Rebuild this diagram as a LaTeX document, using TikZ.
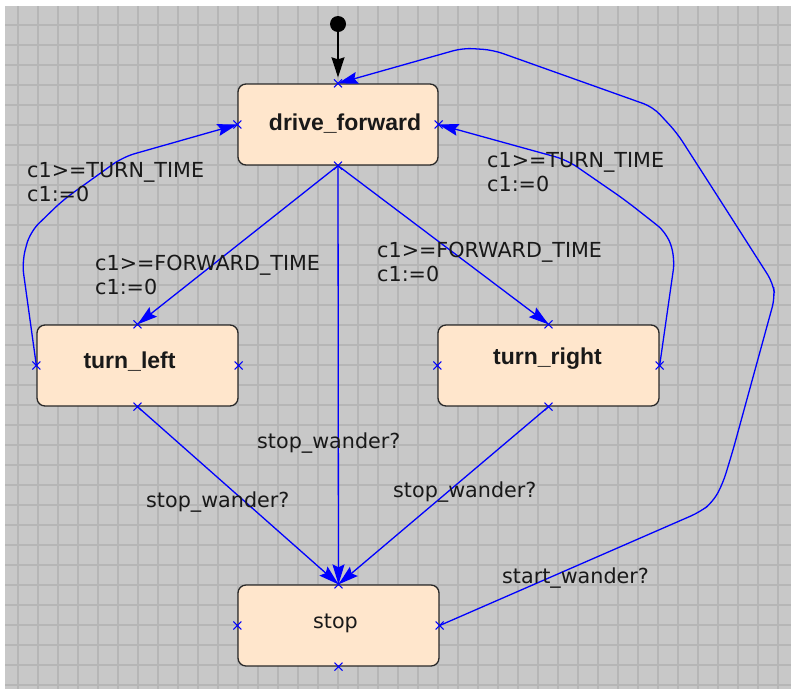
\documentclass[tikz,border=0pt]{standalone}
\usepackage{fontspec}
\setmainfont{DejaVu Sans}
\newfontfamily\statefont{Liberation Sans}
\usetikzlibrary{arrows.meta}
\definecolor{bgc}{RGB}{200,200,200}
\definecolor{gridc}{RGB}{182,182,182}
\definecolor{peach}{RGB}{255,230,204}
\definecolor{edgec}{RGB}{0,0,255}
\definecolor{bordc}{RGB}{40,40,40}
\definecolor{txtc}{RGB}{25,25,25}
\newcommand\sttext[3]{\raisebox{#2}[0pt][0pt]{\makebox[0pt][c]{\hspace*{#1}#3}}}
\tikzset{
  state/.style={rectangle, rounded corners=8pt, draw=bordc, line width=1.3pt,
    fill=peach, minimum height=81pt, inner sep=0pt, text=txtc,
    font=\statefont\bfseries\fontsize{23pt}{26pt}\selectfont},
  stopfont/.style={font=\normalfont\fontsize{20.7pt}{24pt}\selectfont},
  trans/.style={draw=edgec, line width=1.3pt, -{Stealth[length=20pt,width=12pt,inset=3pt]}},
  lbl/.style={font=\fontsize{20.7pt}{24pt}\selectfont, text=txtc, inner sep=0pt, anchor=north west, align=left},
  xmark/.style={draw=edgec, line width=1pt},
  initdot/.style={circle, fill=black, minimum size=16pt, inner sep=0pt},
  initarrow/.style={draw=black, line width=1.5pt, -{Stealth[length=20pt,width=13pt,inset=2pt]}, shorten >=6pt},
  gridline/.style={draw=gridc, line width=1.2pt}
}
\begin{document}
\begin{tikzpicture}[x=1pt,y=-1pt]
\useasboundingbox (0,0) rectangle (791,689);
\fill[white] (0,0) rectangle (791,689);
\fill[bgc] (5,6) rectangle (791,689);
\foreach \x in {18,38,...,778} \draw[gridline] (\x,6) -- (\x,689);
\foreach \y in {25,45,...,685} \draw[gridline] (5,\y) -- (791,\y);

% states
\node[state, minimum width=200pt] (df) at (338,124.5) {\sttext{14pt}{-5.5pt}{drive\_forward}};
\node[state, minimum width=201pt] (tl) at (137.5,365.5) {\sttext{-16pt}{-2.5pt}{turn\_left}};
\node[state, minimum width=221pt] (trt) at (548.5,365.5) {\sttext{-2pt}{1pt}{turn\_right}};
\node[state, minimum width=201pt, stopfont] (st) at (338.5,625.5) {\sttext{-6pt}{-2.5pt}{stop}};

% initial
\node[initdot] (init) at (338,24) {};
\draw[initarrow] (init) -- (df.north);

% transitions
\draw[trans] (df.south) -- (tl.north);
\draw[trans] (df.south) -- (trt.north);
\draw[trans] (df.south) -- (st.north);
\draw[trans] (tl.south) -- (st.north);
\draw[trans] (trt.south) -- (st.north);
\draw[trans, rounded corners=12pt] (tl.west) -- (22,262) -- (30,232) -- (63,200) -- (123,157) -- (df.west);
\draw[trans, rounded corners=12pt] (trt.east) -- (675,258) -- (667,233) -- (625,200) -- (567,160) -- (df.east);
\draw[trans, rounded corners=10pt] (st.east) -- (700,512) -- (713,502) -- (723,483) -- (733,450) -- (775,297) -- (773,283) -- (720,200) -- (677,133) -- (653,107) -- (493,50) -- (463,48) -- (df.north);

% connection markers
\foreach \n in {df,tl,trt,st}
  \foreach \a in {north,south,east,west}
    \draw[xmark] ([shift={(-4,-4)}]\n.\a) -- ([shift={(4,4)}]\n.\a)
                 ([shift={(-4,4)}]\n.\a) -- ([shift={(4,-4)}]\n.\a);

% labels
\node[lbl] (g1) at (27,162) {c1>=TURN\_TIME\\c1:=0};
\node[lbl] (g2) at (487,152) {c1>=TURN\_TIME\\c1:=0};
\node[lbl] (g3) at (95,255) {c1>=FORWARD\_TIME\\c1:=0};
\node[lbl] (g4) at (377,242) {c1>=FORWARD\_TIME\\c1:=0};
\node[lbl] (g5) at (257,433) {stop\_wander?};
\node[lbl] (g6) at (146,492) {stop\_wander?};
\node[lbl] (g7) at (393,482) {stop\_wander?};
\node[lbl] (g8) at (502,568) {start\_wander?};
\end{tikzpicture}
\end{document}
